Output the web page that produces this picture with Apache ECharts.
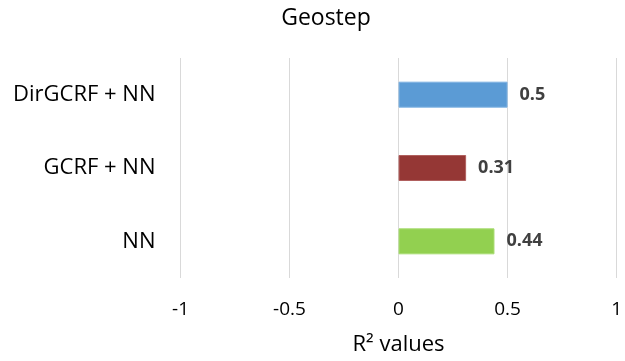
<!DOCTYPE html>
<html>
<head>
<meta charset="utf-8">
<script src="https://cdn.jsdelivr.net/npm/echarts@6/dist/echarts.min.js"></script>
<style>
  html, body { margin: 0; padding: 0; background: #fff; }
  #chart { width: 625px; height: 361px; }
</style>
</head>
<body>
<div id="chart"></div>
<script>
// Model names, top to bottom
const categories = ['DirGCRF + NN', 'GCRF + NN', 'NN'];
// R² score per model
const r2Values = [0.5, 0.31, 0.44];
// One fill colour per model bar, plus a slightly lighter outline
const barColors = ['#5B9BD5', '#953735', '#92D050'];
const barEdges = ['#7FB2E2', '#B0605E', '#A8DC70'];
// Value axis ticks
const tickValues = [-1, -0.5, 0, 0.5, 1];

const FONT = '"Open Sans", sans-serif';

const chart = echarts.init(document.getElementById('chart'), null, { renderer: 'canvas' });

chart.setOption({
  animation: false,
  backgroundColor: '#ffffff',
  title: {
    text: 'Geostep',
    left: 321,
    top: 2,
    textAlign: 'center',
    textStyle: { fontFamily: FONT, fontSize: 23, fontWeight: 'normal', color: '#000000' }
  },
  grid: { left: 180.5, right: 4.5, top: 58, bottom: 81, containLabel: false },
  xAxis: {
    type: 'value',
    min: tickValues[0],
    max: tickValues[tickValues.length - 1],
    interval: 0.5,
    name: 'R² values',
    nameLocation: 'middle',
    nameGap: 56,
    nameTextStyle: { fontFamily: FONT, fontSize: 22, color: '#000000' },
    axisLine: { show: false },
    axisTick: { show: false },
    axisLabel: {
      margin: 22,
      fontFamily: FONT,
      fontSize: 19,
      color: '#000000',
      formatter: v => String(v)
    },
    splitLine: { show: true, lineStyle: { color: '#d9d9d9', width: 1 } }
  },
  yAxis: {
    type: 'category',
    data: categories,
    inverse: true,
    axisLine: { show: false, onZero: false },
    axisTick: { show: false },
    splitLine: { show: false },
    axisLabel: {
      margin: 25,
      fontFamily: FONT,
      fontSize: 22,
      color: '#000000'
    }
  },
  series: [{
    type: 'bar',
    barWidth: 26,
    data: r2Values.map((v, i) => ({
      value: v,
      itemStyle: { color: barColors[i], borderColor: barEdges[i], borderWidth: 1 }
    })),
    label: {
      show: true,
      position: 'right',
      distance: 12,
      fontFamily: FONT,
      fontSize: 18,
      fontWeight: 'bold',
      color: '#404040',
      formatter: p => String(p.value)
    }
  }]
});
</script>
</body>
</html>
